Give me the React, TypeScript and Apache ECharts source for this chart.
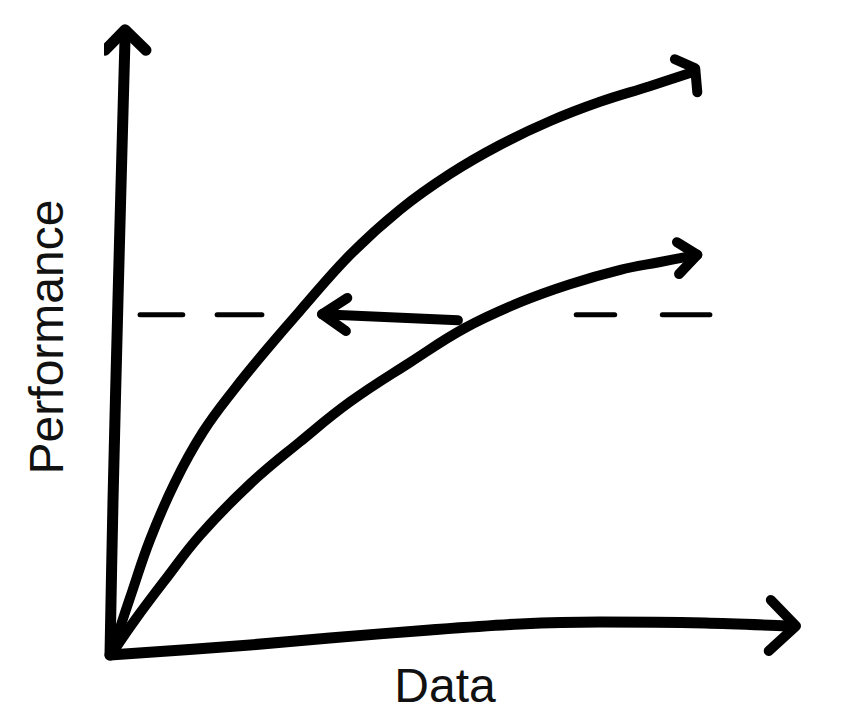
import React, { useEffect, useRef } from "react";
import * as echarts from "echarts";

// Hand-drawn sketch. Data units: x 0..100, y 0..100.
const yAxisStroke: number[][] = [[0, 0], [0.43, 25.8], [1.14, 59.2], [1.71, 84.2], [2.14, 102.5]];
const yAxisHead: number[][] = [[-0.71, 100.8], [2.14, 104.2], [5.14, 100.8]];

const xAxisStroke: number[][] = [[0, 0], [20, 1.67], [31.4, 2.83], [45.7, 4.17], [58.6, 5.17], [70, 5.5], [85, 5.33], [97.5, 4.8]];
const xAxisHead: number[][] = [[94.4, 9.17], [98, 4.83], [94.1, 0.67]];

const upperCurve: number[][] = [
  [0.43, 0.5], [1.43, 4.5], [3.14, 10.5], [5.71, 19.2], [9.29, 28.8], [13.3, 37.2],
  [17.9, 44.5], [22.6, 51.2], [27.1, 57.3], [34.3, 66.7], [41.4, 74.2], [48.6, 80.2],
  [55.7, 85], [62.9, 89], [70, 92.2], [77.1, 94.8], [83.4, 97.2],
];
const upperHead: number[][] = [[80.7, 99.3], [83.6, 97.8], [83.9, 93.8]];

const lowerCurve: number[][] = [
  [0.43, 0.5], [3.57, 5.83], [7.86, 12.5], [12.9, 20], [20, 28.5], [27.1, 35.5],
  [34.3, 42.2], [42.9, 48.8], [50.7, 54.5], [58.6, 58.8], [65.7, 61.8], [72.9, 64.2],
  [78.6, 65.5], [83.9, 66.7],
];
const lowerHead: number[][] = [[81, 68.8], [83.9, 66.7], [81.3, 63.5]];

const shiftArrow: number[][] = [[49.7, 55.8], [30.3, 56.8]];
const shiftHead: number[][] = [[33.9, 59.5], [30.3, 56.8], [33.7, 54]];

const thresholdLevel = 56.7;
const thresholdDashes: number[][] = [[4.29, 10.4], [15.3, 21.7], [66.6, 72.1], [78.9, 85.7]];

const xLabel = "Data";
const yLabel = "Performance";

const INK = "#000";

function stroke(name: string, data: number[][], width: number, smooth: number | boolean = false) {
  return {
    name,
    type: "line",
    data,
    smooth,
    showSymbol: false,
    symbol: "none",
    clip: false,
    silent: true,
    lineStyle: { color: INK, width, cap: "round", join: "round" },
    z: 3,
  };
}

export default function App() {
  const ref = useRef<HTMLDivElement>(null);
  useEffect(() => {
    if (!ref.current) return;
    const chart = echarts.init(ref.current, undefined, { renderer: "svg" });
    const series: any[] = [
      stroke("y-axis", yAxisStroke, 11, 0.3),
      stroke("y-axis-head", yAxisHead, 11),
      stroke("x-axis", xAxisStroke, 11, 0.3),
      stroke("x-axis-head", xAxisHead, 10),
      stroke("upper", upperCurve, 10, 0.4),
      stroke("upper-head", upperHead, 10),
      stroke("lower", lowerCurve, 10, 0.4),
      stroke("lower-head", lowerHead, 10),
      stroke("shift", shiftArrow, 10),
      stroke("shift-head", shiftHead, 10),
      ...thresholdDashes.map((d, i) =>
        stroke("dash" + i, [[d[0], thresholdLevel], [d[1], thresholdLevel]], 5)
      ),
    ];
    chart.setOption({
      animation: false,
      backgroundColor: "#fff",
      grid: { left: 110, right: 52, top: 55, bottom: 65 },
      xAxis: { type: "value", min: 0, max: 100, show: false },
      yAxis: { type: "value", min: 0, max: 100, show: false },
      series,
      graphic: [
        {
          type: "text",
          x: 445,
          y: 685,
          style: {
            text: xLabel,
            fill: "#111",
            font: "48px 'Liberation Sans', Arial, sans-serif",
            align: "center",
            verticalAlign: "middle",
          },
        },
        {
          type: "text",
          x: 46,
          y: 337,
          rotation: Math.PI / 2,
          style: {
            text: yLabel,
            fill: "#111",
            font: "48px 'Liberation Sans', Arial, sans-serif",
            align: "center",
            verticalAlign: "middle",
          },
        },
      ],
    });
    return () => chart.dispose();
  }, []);
  return (
    <div
      ref={ref}
      style={{ position: "fixed", left: 0, top: 0, width: 862, height: 720, background: "#fff" }}
    />
  );
}
